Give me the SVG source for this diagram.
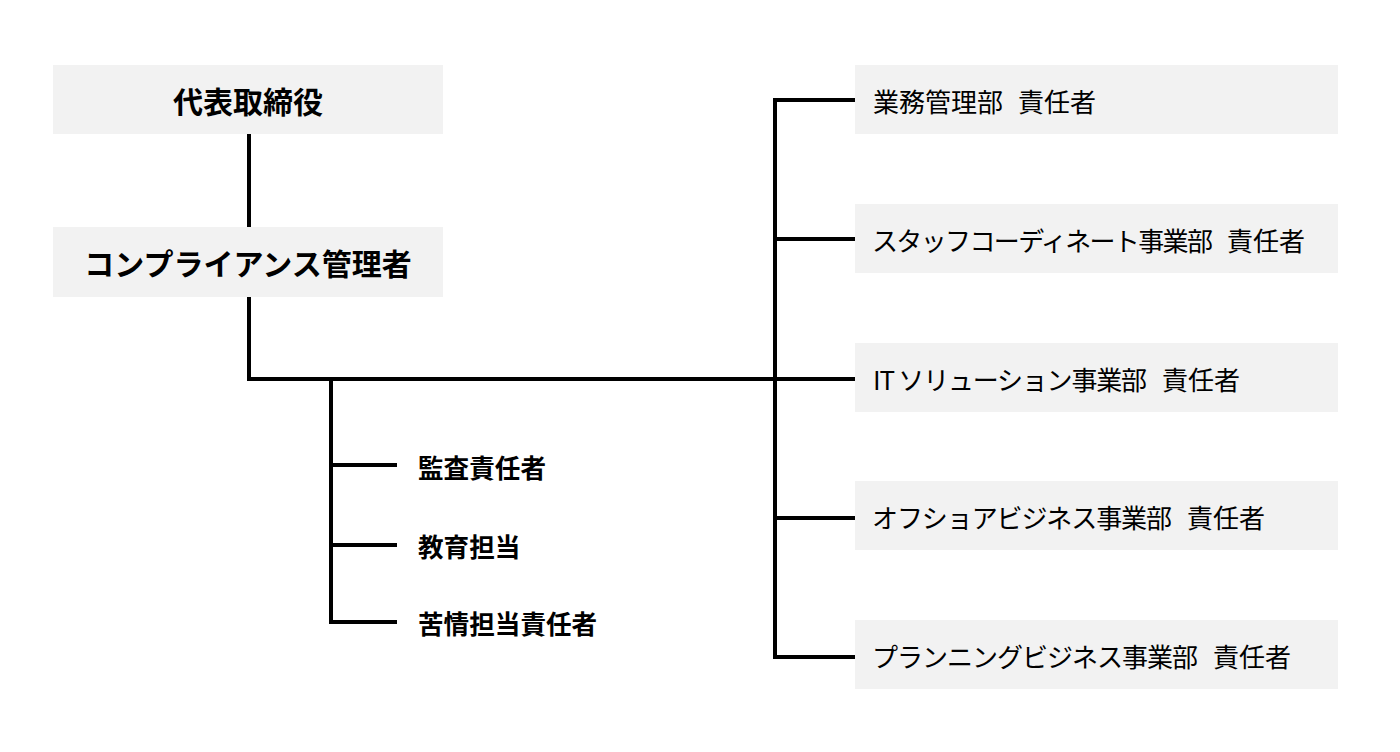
<svg xmlns="http://www.w3.org/2000/svg" width="1400" height="752" viewBox="0 0 1400 752">
<style>
.box{fill:#f2f2f2}
.t{font-family:"Noto Sans CJK JP","Noto Sans",sans-serif;fill:#000;dominant-baseline:central}
.b{font-weight:bold;font-size:30px}
.s{font-weight:bold;font-size:25.6px}
.r{font-size:26px}
.ln{stroke:#000;stroke-width:4;fill:none;stroke-linecap:square}
</style>
<rect width="1400" height="752" fill="#fff"/>
<g id="connectors">
<path class="ln" d="M249 136 V225"/>
<path class="ln" d="M249 299 V379 H853"/>
<path class="ln" d="M853 100 H775 V657 H853"/>
<path class="ln" d="M775 239 H853"/>
<path class="ln" d="M775 518 H853"/>
<path class="ln" d="M331 379 V622 H395"/>
<path class="ln" d="M331 465 H395"/>
<path class="ln" d="M331 545 H395"/>
</g>
<g id="n-ceo"><rect class="box" x="53" y="65" width="390" height="69"/><text class="t b" x="248" y="100" text-anchor="middle">代表取締役</text></g>
<g id="n-compliance"><rect class="box" x="53" y="227" width="390" height="70"/><text class="t b" x="248" y="262" text-anchor="middle">コンプライアンス管理者</text></g>
<g id="n-audit"><text class="t s" x="418" y="466">監査責任者</text></g>
<g id="n-edu"><text class="t s" x="418" y="545">教育担当</text></g>
<g id="n-complaint"><text class="t s" x="418" y="622">苦情担当責任者</text></g>
<g id="n-biz"><rect class="box" x="855" y="65" width="483" height="69"/><text class="t r" y="100"><tspan x="873">業務管理部 </tspan><tspan x="1018">責任者</tspan></text></g>
<g id="n-staff"><rect class="box" x="855" y="204" width="483" height="69"/><text class="t r" y="239"><tspan x="872" textLength="341" lengthAdjust="spacing">スタッフコーディネート事業部</tspan> <tspan x="1227">責任者</tspan></text></g>
<g id="n-it"><rect class="box" x="855" y="343" width="483" height="69"/><text class="t r" y="378"><tspan x="873" textLength="274" lengthAdjust="spacing">IT ソリューション事業部</tspan> <tspan x="1162">責任者</tspan></text></g>
<g id="n-offshore"><rect class="box" x="855" y="481" width="483" height="69"/><text class="t r" y="516"><tspan x="872" textLength="300" lengthAdjust="spacing">オフショアビジネス事業部</tspan> <tspan x="1187">責任者</tspan></text></g>
<g id="n-planning"><rect class="box" x="855" y="620" width="483" height="69"/><text class="t r" y="655"><tspan x="872" textLength="326" lengthAdjust="spacing">プランニングビジネス事業部</tspan> <tspan x="1213">責任者</tspan></text></g>
</svg>
